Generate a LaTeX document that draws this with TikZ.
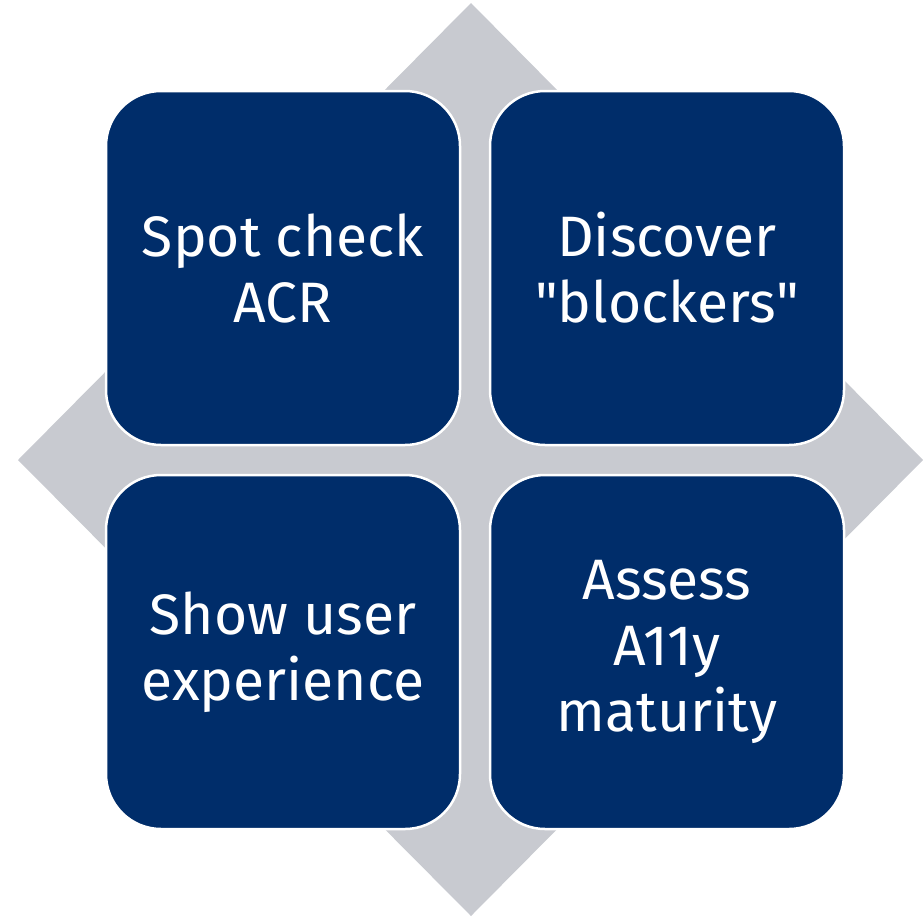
\documentclass[tikz,border=0pt]{standalone}
\usepackage{fontspec}
\setmainfont{Fira Sans}
\definecolor{navy}{RGB}{0,45,106}
\definecolor{slate}{RGB}{200,202,208}
\tikzset{
  tile/.style={fill=navy, draw=white, line width=2.5pt, rounded corners=55pt,
    minimum width=354pt, minimum height=354pt, inner sep=0pt,
    text=white, align=center, font=\fontsize{57}{66}\selectfont}
}
\begin{document}
\begin{tikzpicture}[x=1pt, y=-1pt]
  \useasboundingbox (0,0) rectangle (923,916);
  % backdrop diamond
  \fill[slate] (471,3) -- (923,460) -- (471,916) -- (18,460) -- cycle;
  % four tiles
  \node[tile] (spot) at (283,268) {Spot check\\ACR};
  \node[tile] (disc) at (667,268) {Discover\\\textquotedbl blockers\textquotedbl};
  \node[tile] (show) at (283,652) {Show user\\experience};
  \node[tile] (asse) at (667,652) {Assess\\A11y\\maturity};
\end{tikzpicture}
\end{document}
